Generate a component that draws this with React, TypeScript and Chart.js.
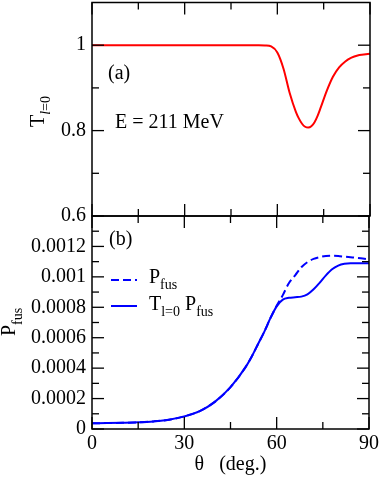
import React, { useEffect, useRef } from 'react';
import { Chart, registerables } from 'chart.js';

Chart.register(...registerables);

const SERIF = "'Liberation Serif', 'Times New Roman', serif";

// Panel (a): transmission T_{l=0} vs theta
const thetaA = [0, 10, 20, 30, 40, 50, 54, 56, 58, 60, 62, 64, 66, 67, 68, 69, 70, 71, 72, 73, 74, 76, 78, 80, 82, 84, 86, 88, 90];
const transmission = [1, 1, 1, 1, 1, 1, 1, 0.9995, 0.997, 0.983, 0.945, 0.888, 0.844, 0.828, 0.816, 0.809, 0.807, 0.81, 0.819, 0.834, 0.853, 0.893, 0.926, 0.948, 0.962, 0.971, 0.976, 0.978, 0.98];

// Panel (b): P_fus and T_{l=0} P_fus vs theta
const thetaB = [0, 5, 10, 15, 20, 25, 30, 35, 40, 45, 50, 52, 54, 56, 58, 60, 62, 64, 66, 68, 70, 72, 74, 76, 78, 80, 82, 84, 86, 88, 90];
const pFus = [0.000038, 0.000039, 0.000041, 0.000044, 0.00005, 0.000061, 0.000083, 0.000117, 0.00018, 0.000275, 0.00041, 0.00048, 0.00056, 0.00064, 0.00073, 0.00081, 0.00088, 0.00096, 0.00101, 0.001063, 0.001097, 0.001118, 0.00113, 0.001137, 0.001139, 0.001137, 0.001133, 0.001129, 0.001125, 0.00112, 0.001115];
const tPFus = [0.000038, 0.000039, 0.000041, 0.000044, 0.00005, 0.000061, 0.000083, 0.000117, 0.00018, 0.000275, 0.00041, 0.00048, 0.00056, 0.00064, 0.00073, 0.000806, 0.00085, 0.000862, 0.000866, 0.00087, 0.000885, 0.000918, 0.000962, 0.00101, 0.00105, 0.001074, 0.001086, 0.00109, 0.00109, 0.00109, 0.00109];

const xMajorTicks = [0, 30, 60, 90];
const xMinorTicks = [15, 45, 75];
const xTickLabels = ['0', '30', '60', '90'];
const aMajorTicks = [0.6, 0.8, 1];
const aMinorTicks = [0.7, 0.9];
const aTickLabels = ['0.6', '0.8', '1'];
const bMajorTicks = [0, 0.0002, 0.0004, 0.0006, 0.0008, 0.001, 0.0012];
const bMinorTicks = [0.0001, 0.0003, 0.0005, 0.0007, 0.0009, 0.0011, 0.0013];
const bTickLabels = ['0', '0.0002', '0.0004', '0.0006', '0.0008', '0.001', '0.0012'];

const W = 382;
const H = 477;
const PANEL_SPLIT = 216;

function framePlugin(yMajor: number[], yMinor: number[]) {
  return {
    id: 'frame',
    afterDatasetsDraw(chart: any) {
      const { ctx, chartArea } = chart;
      const { left, right, top, bottom } = chartArea;
      const xs = chart.scales.x;
      const ys = chart.scales.y;
      ctx.save();
      ctx.strokeStyle = '#000';
      ctx.lineWidth = 1.3;
      const seg = (x1: number, y1: number, x2: number, y2: number) => {
        ctx.beginPath();
        ctx.moveTo(x1, y1);
        ctx.lineTo(x2, y2);
        ctx.stroke();
      };
      const MAJ = 12;
      const MIN = 7;
      xMajorTicks.forEach((v) => {
        const p = xs.getPixelForValue(v);
        seg(p, bottom, p, bottom - MAJ);
        seg(p, top, p, top + MAJ);
      });
      xMinorTicks.forEach((v) => {
        const p = xs.getPixelForValue(v);
        seg(p, bottom, p, bottom - MIN);
        seg(p, top, p, top + MIN);
      });
      yMajor.forEach((v) => {
        const p = ys.getPixelForValue(v);
        seg(left, p, left + MAJ, p);
        seg(right, p, right - MAJ, p);
      });
      yMinor.forEach((v) => {
        const p = ys.getPixelForValue(v);
        seg(left, p, left + MIN, p);
        seg(right, p, right - MIN, p);
      });
      ctx.lineWidth = 1.5;
      ctx.strokeRect(left, top, right - left, bottom - top);
      ctx.restore();
    },
  };
}

type Part = { text: string; size: number; dy: number; italic?: boolean };

function drawParts(ctx: CanvasRenderingContext2D, parts: Part[], x: number, y: number, rotate: boolean) {
  ctx.save();
  ctx.translate(x, y);
  if (rotate) ctx.rotate(-Math.PI / 2);
  ctx.fillStyle = '#000';
  ctx.textBaseline = 'alphabetic';
  ctx.textAlign = 'left';
  let cx = 0;
  parts.forEach((p) => {
    ctx.font = `${p.italic ? 'italic ' : ''}${p.size}px ${SERIF}`;
    ctx.fillText(p.text, cx, p.dy);
    cx += ctx.measureText(p.text).width;
  });
  ctx.restore();
}

const annotA = {
  id: 'annotA',
  afterDraw(chart: any) {
    const ctx = chart.ctx as CanvasRenderingContext2D;
    const { left } = chart.chartArea;
    drawParts(ctx, [{ text: '(a)', size: 20, dy: 0 }], left + 16, 79, false);
    drawParts(ctx, [{ text: 'E = 211 MeV', size: 20, dy: 0 }], left + 23, 127.5, false);
    drawParts(
      ctx,
      [
        { text: 'T', size: 20, dy: 0 },
        { text: 'l', size: 14, dy: 6, italic: true },
        { text: '=0', size: 14, dy: 6 },
      ],
      44,
      127,
      true
    );
  },
};

const annotB = {
  id: 'annotB',
  afterDraw(chart: any) {
    const ctx = chart.ctx as CanvasRenderingContext2D;
    const { left } = chart.chartArea;
    drawParts(ctx, [{ text: '(b)', size: 20, dy: 0 }], left + 17, 245, false);
    // legend samples
    ctx.save();
    ctx.strokeStyle = '#0000ff';
    ctx.lineWidth = 2;
    ctx.setLineDash([8, 4]);
    ctx.beginPath();
    ctx.moveTo(left + 19, 280);
    ctx.lineTo(left + 45, 280);
    ctx.stroke();
    ctx.setLineDash([]);
    ctx.beginPath();
    ctx.moveTo(left + 19, 306);
    ctx.lineTo(left + 45, 306);
    ctx.stroke();
    ctx.restore();
    drawParts(
      ctx,
      [
        { text: 'P', size: 20, dy: 0 },
        { text: 'fus', size: 14, dy: 6 },
      ],
      left + 57,
      283,
      false
    );
    drawParts(
      ctx,
      [
        { text: 'T', size: 20, dy: 0 },
        { text: 'l=0', size: 14, dy: 6 },
        { text: ' P', size: 20, dy: 0 },
        { text: 'fus', size: 14, dy: 6 },
      ],
      left + 57,
      310,
      false
    );
    drawParts(
      ctx,
      [
        { text: 'P', size: 20, dy: 0 },
        { text: 'fus', size: 14, dy: 7 },
      ],
      15,
      336,
      true
    );
  },
};

export default function App() {
  const refA = useRef<HTMLCanvasElement | null>(null);
  const refB = useRef<HTMLCanvasElement | null>(null);

  useEffect(() => {
    if (!refA.current || !refB.current) return;
    const tickFont = { family: SERIF, size: 20 };

    const chartA = new Chart(refA.current, {
      type: 'line',
      data: {
        datasets: [
          {
            data: thetaA.map((x, i) => ({ x, y: transmission[i] })),
            borderColor: '#ff0000',
            borderWidth: 2,
            pointRadius: 0,
            fill: false,
            cubicInterpolationMode: 'monotone',
          },
        ],
      },
      options: {
        responsive: false,
        animation: false,
        layout: { padding: { left: 0, right: 12, top: 2.5, bottom: H - PANEL_SPLIT } },
        plugins: { legend: { display: false }, tooltip: { enabled: false } },
        scales: {
          x: { type: 'linear', min: 0, max: 90, display: false },
          y: {
            type: 'linear',
            min: 0.6,
            max: 1.1,
            afterBuildTicks: (s: any) => {
              s.ticks = aMajorTicks.map((v) => ({ value: v }));
            },
            afterFit: (s: any) => {
              s.width = 92;
              s.paddingTop = 0;
              s.paddingBottom = 0;
            },
            ticks: {
              callback: (_v: any, i: number) => aTickLabels[i],
              font: tickFont,
              color: '#000',
              padding: 6,
            },
            grid: { display: false, drawTicks: false },
            border: { display: false },
          },
        },
      },
      plugins: [framePlugin(aMajorTicks, aMinorTicks), annotA],
    } as any);

    const chartB = new Chart(refB.current, {
      type: 'line',
      data: {
        datasets: [
          {
            data: thetaB.map((x, i) => ({ x, y: pFus[i] })),
            borderColor: '#0000ff',
            borderWidth: 2,
            borderDash: [8, 4],
            pointRadius: 0,
            fill: false,
            cubicInterpolationMode: 'monotone',
          },
          {
            data: thetaB.map((x, i) => ({ x, y: tPFus[i] })),
            borderColor: '#0000ff',
            borderWidth: 2,
            pointRadius: 0,
            fill: false,
            cubicInterpolationMode: 'monotone',
          },
        ],
      },
      options: {
        responsive: false,
        animation: false,
        layout: { padding: { left: 0, right: 12, top: PANEL_SPLIT, bottom: 0 } },
        plugins: { legend: { display: false }, tooltip: { enabled: false } },
        scales: {
          x: {
            type: 'linear',
            min: 0,
            max: 90,
            afterBuildTicks: (s: any) => {
              s.ticks = xMajorTicks.map((v) => ({ value: v }));
            },
            afterFit: (s: any) => {
              s.height = 48;
            },
            ticks: {
              callback: (_v: any, i: number) => xTickLabels[i],
              font: tickFont,
              color: '#000',
              padding: 3,
              maxRotation: 0,
              autoSkip: false,
            },
            grid: { display: false, drawTicks: false },
            border: { display: false },
            title: {
              display: true,
              text: 'θ   (deg.)',
              font: tickFont,
              color: '#000',
              padding: { top: 0, bottom: 0 },
            },
          },
          y: {
            type: 'linear',
            min: 0,
            max: 0.0014,
            afterBuildTicks: (s: any) => {
              s.ticks = bMajorTicks.map((v) => ({ value: v }));
            },
            afterFit: (s: any) => {
              s.width = 92;
            },
            ticks: {
              callback: (_v: any, i: number) => bTickLabels[i],
              font: tickFont,
              color: '#000',
              padding: 6,
            },
            grid: { display: false, drawTicks: false },
            border: { display: false },
          },
        },
      },
      plugins: [framePlugin(bMajorTicks, bMinorTicks), annotB],
    } as any);

    return () => {
      chartA.destroy();
      chartB.destroy();
    };
  }, []);

  return (
    <div style={{ position: 'absolute', left: 0, top: 0, width: W, height: H, background: '#fff' }}>
      <canvas ref={refA} width={W} height={H} style={{ position: 'absolute', left: 0, top: 0 }} />
      <canvas ref={refB} width={W} height={H} style={{ position: 'absolute', left: 0, top: 0 }} />
    </div>
  );
}
